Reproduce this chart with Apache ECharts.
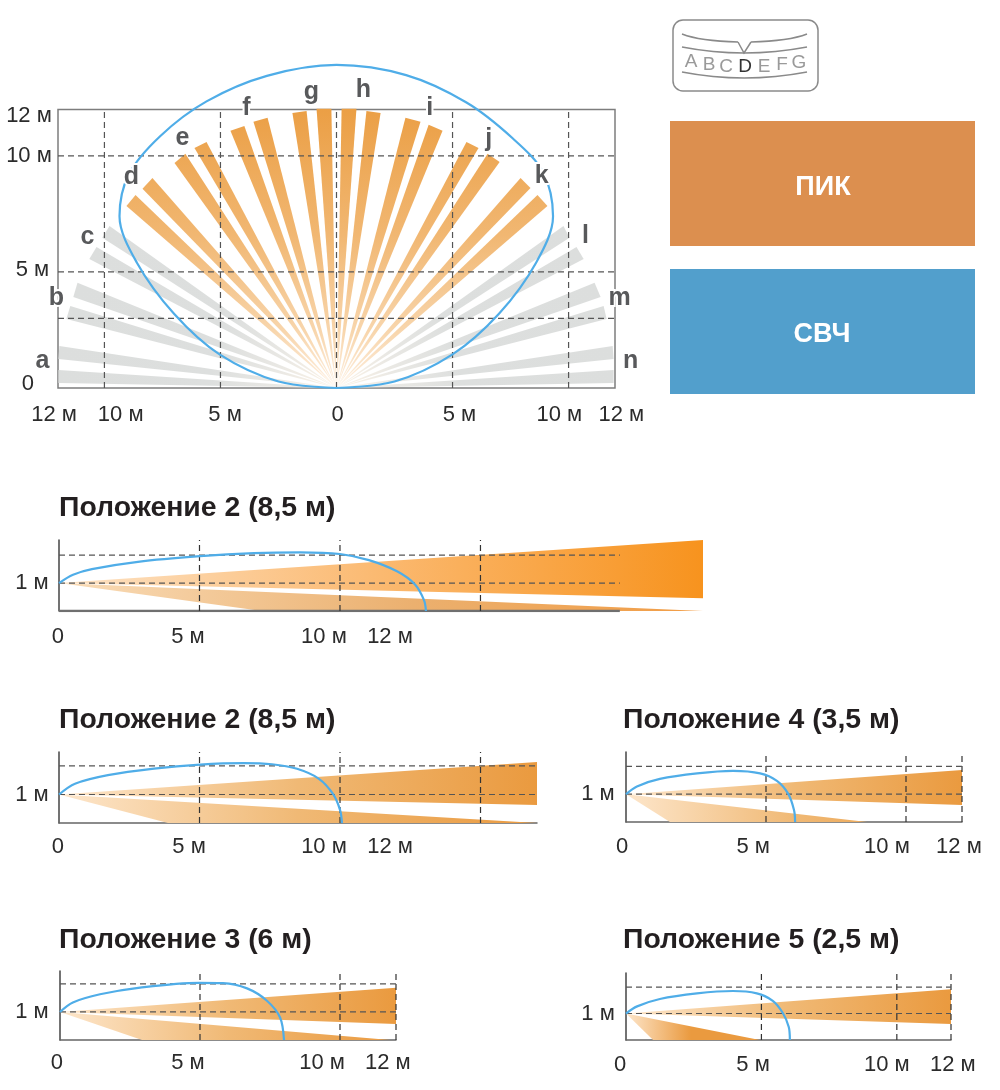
<!DOCTYPE html>
<html>
<head>
<meta charset="utf-8">
<title>Зоны обнаружения</title>
<script src="https://cdn.jsdelivr.net/npm/echarts@6/dist/echarts.min.js"></script>
<style>
    html, body { margin: 0; padding: 0; background: #fff; }
    #chart { width: 1000px; height: 1090px; }
</style>
</head>
<body>
<div id="chart"></div>
<script>
// top view, metres. each beam: tip corners x1, y1, x2, y2, the third corner is the origin
const greyBeams = [
    [-11.98, 0.78, -11.98, 0.22], [-11.94, 1.81, -11.98, 1.25],
    [-11.47, 3.53, -11.64, 2.97], [-11.16, 4.53, -11.34, 3.92],
    [-10.34, 6.08, -10.65, 5.56], [-9.78, 6.98, -10.09, 6.47],
    [9.78, 6.98, 10.04, 6.47], [10.34, 6.08, 10.65, 5.56],
    [11.12, 4.53, 11.38, 3.92], [11.51, 3.53, 11.64, 2.97],
    [11.9, 1.81, 11.94, 1.25], [11.94, 0.78, 11.94, 0.22]
];
const orangeBeams = [
    [-8.66, 8.32, -9.05, 7.84], [-7.93, 9.05, -8.36, 8.58],
    [-6.51, 10.09, -6.98, 9.7], [-5.6, 10.6, -6.12, 10.34],
    [-3.97, 11.29, -4.57, 11.08], [-2.97, 11.64, -3.58, 11.47],
    [-1.29, 11.94, -1.9, 11.85], [-0.22, 12.03, -0.86, 12.03],
    [0.22, 12.03, 0.86, 12.03], [1.29, 11.94, 1.9, 11.85],
    [2.97, 11.64, 3.62, 11.47], [3.97, 11.34, 4.57, 11.08],
    [5.6, 10.6, 6.12, 10.34], [6.51, 10.09, 7.03, 9.74],
    [7.93, 9.05, 8.36, 8.62], [8.66, 8.32, 9.09, 7.84]
];
const topCurve = [
    [0, 0], [-2.5, 0.28], [-5.04, 1.45], [-7, 3.2], [-8.6, 5.4], [-9.35, 7.4], [-8.95, 9.2],
    [-7.6, 10.85], [-5.6, 12.35], [-3, 13.45], [0, 13.92], [3, 13.48], [5.6, 12.3], [7.6, 10.75],
    [8.9, 9.3], [9.33, 7.4], [8.6, 5.4], [7, 3.2], [5, 1.45], [2.5, 0.28], [0, 0]
];
const topGridX = [-10, -5, 0, 5, 10];
const topGridY = [3, 5, 10];
const beamLetters = ['a', 'b', 'c', 'd', 'e', 'f', 'g', 'h', 'i', 'j', 'k', 'l', 'm', 'n'];
const letterX = [-12.67, -12.07, -10.73, -8.84, -6.64, -3.88, -1.08, 1.16, 4.02, 6.56, 8.84, 10.73, 12.2, 12.67];
const letterY = [1.16, 3.88, 6.5, 9.09, 10.78, 12.05, 12.76, 12.84, 12.05, 10.73, 9.14, 6.54, 3.88, 1.16];
const topTickText = ['12 м', '10 м', '5 м', '0', '5 м', '10 м', '12 м'];
const topTickX = [-12.17, -9.3, -4.8, 0.05, 5.30, 9.6, 12.27];
const topTickY = -1.15;
const topSideText = ['12 м', '10 м', '5 м', '0'];
const topSideX = [-13.25, -13.25, -13.1, -13.3];
const topSideY = [11.72, 10, 5.1, 0.17];

// side views, metres
const sideTitles = ['Положение 2 (8,5 м)', 'Положение 2 (8,5 м)', 'Положение 4 (3,5 м)', 'Положение 3 (6 м)', 'Положение 5 (2,5 м)'];
const upperBeamA = [[0, 1], [22.92, 2.54], [22.92, 0.46]];
const lowerBeamA = [[0, 1], [22.92, 0], [7.22, 0]];
const curveA = [[0, 1], [0.5, 1.3], [1.17, 1.5], [2.81, 1.76], [5.02, 1.96], [6.94, 2.07], [8.58, 2.1], [10, 2.04], [11.03, 1.82], [12.03, 1.42], [12.67, 0.95], [12.99, 0.39], [13.06, 0]];
const baselineA = [[0, 0], [19.96, 0]];
const tickXA = [-0.04, 4.59, 9.43, 11.78];
const upperBeamB = [[0, 1], [17.01, 2.14], [17.01, 0.63]];
const lowerBeamB = [[0, 1], [17.01, 0], [3.88, 0]];
const curveB = [[0, 1], [0.57, 1.38], [1.74, 1.68], [3.38, 1.91], [5.02, 2.05], [6.58, 2.1], [7.58, 2.06], [8.47, 1.9], [9.25, 1.55], [9.75, 1.02], [10, 0.46], [10.07, 0]];
const tickXB = [-0.04, 4.63, 9.43, 11.78];
const upperBeamC = [[0, 1], [12, 1.87], [12, 0.61]];
const lowerBeamC = [[0, 1], [8.61, 0], [1.57, 0]];
const curveC = [[0, 1], [0.39, 1.28], [1.21, 1.55], [2.54, 1.75], [3.82, 1.84], [4.79, 1.75], [5.39, 1.48], [5.79, 1.02], [6, 0.43], [6.04, 0]];
const tickXC = [-0.14, 4.54, 9.32, 11.89];
const upperBeamD = [[0, 1], [12, 1.86], [12, 0.57]];
const lowerBeamD = [[0, 1], [11.79, 0], [2.93, 0]];
const curveD = [[0, 1], [0.46, 1.34], [1.43, 1.63], [2.86, 1.87], [4.96, 2.04], [5.82, 2.03], [6.68, 1.84], [7.39, 1.4], [7.86, 0.8], [8, 0]];
const tickXD = [-0.11, 4.57, 9.36, 11.71];
const upperBeamE = [[0, 1], [12, 1.92], [12, 0.6]];
const lowerBeamE = [[0, 1], [4.94, 0], [1, 0]];
const curveE = [[0, 1], [0.41, 1.27], [1.25, 1.55], [2.62, 1.76], [3.95, 1.85], [4.83, 1.76], [5.42, 1.48], [5.79, 1.02], [6.01, 0.49], [6.05, 0]];
const tickXE = [-0.22, 4.69, 9.63, 12.07];
const sideTickText = ['0', '5 м', '10 м', '12 м'];
const sideGridY = [1, 2];

const textFont = '"Liberation Sans", Arial, sans-serif';
const labelColor = '#2b2b2b';
const dashColor = '#555555';
const curveColor = '#4fade8';

const chart = echarts.init(document.getElementById('chart'));
const grids = [], xAxes = [], yAxes = [], series = [], titles = [];

function addGrid(box, xMin, xMax, yMax, frame, hideBase) {
    const idx = grids.length;
    grids.push({ left: box.left, top: box.top, width: box.right - box.left, height: box.bottom - box.top,
        show: frame, borderColor: '#7d7d7d', borderWidth: 1.5, containLabel: false });
    xAxes.push({ gridIndex: idx, type: 'value', min: xMin, max: xMax, splitLine: { show: false },
        axisLabel: { show: false }, axisTick: { show: false },
        axisLine: { show: !frame && !hideBase, onZero: false, lineStyle: { color: '#666', width: 1.5 } } });
    yAxes.push({ gridIndex: idx, type: 'value', min: 0, max: yMax, splitLine: { show: false },
        axisLabel: { show: false }, axisTick: { show: false },
        axisLine: { show: !frame, onZero: false, lineStyle: { color: '#444', width: 1.5 } } });
    return idx;
}

function polygonSeries(idx, polygons, fillFn, z) {
    series.push({
        type: 'custom', xAxisIndex: idx, yAxisIndex: idx, z: z, silent: true,
        data: polygons.map((p) => p[0]),
        renderItem: (params, api) => ({
            type: 'polygon',
            shape: { points: polygons[params.dataIndex].map((p) => api.coord(p)) },
            style: { fill: fillFn(api), stroke: null }
        })
    });
}

function dashSeries(idx, segments, color, width) {
    series.push({
        type: 'custom', xAxisIndex: idx, yAxisIndex: idx, z: 5, silent: true,
        data: segments.map((s) => s[0]),
        renderItem: (params, api) => {
            const from = api.coord(segments[params.dataIndex][0]);
            const to = api.coord(segments[params.dataIndex][1]);
            return {
                type: 'line',
                shape: { x1: from[0], y1: from[1], x2: to[0], y2: to[1] },
                style: { stroke: segments[params.dataIndex][2] || color, lineWidth: width, lineDash: [6, 4] }
            };
        }
    });
}

function curveSeries(idx, points) {
    series.push({
        type: 'line', xAxisIndex: idx, yAxisIndex: idx, z: 6, silent: true, clip: false,
        data: points, smooth: 0.33, symbol: 'none',
        lineStyle: { color: curveColor, width: 2.2 }
    });
}

function textSeries(idx, texts, xs, ys, font, color, halo) {
    series.push({
        type: 'custom', xAxisIndex: idx, yAxisIndex: idx, z: 8, silent: true,
        data: xs.map((x, i) => [x, ys[i]]),
        renderItem: (params, api) => {
            const pos = api.coord([api.value(0), api.value(1)]);
            const style = { text: texts[params.dataIndex], x: pos[0], y: pos[1], fill: color, font: font, align: 'center', verticalAlign: 'middle' };
            if (halo) {
                style.stroke = '#fff';
                style.lineWidth = 4;
            }
            return { type: 'text', style: style };
        }
    });
}

// top view
const topIdx = addGrid({ left: 58, right: 615, top: 109.5, bottom: 388 }, -12, 12, 12, true);
const toTriangle = (b) => [[0, 0], [b[0], b[1]], [b[2], b[3]]];
polygonSeries(topIdx, greyBeams.map(toTriangle), (api) => {
    const o = api.coord([0, 0]);
    return new echarts.graphic.RadialGradient(o[0], o[1], 280, [
        { offset: 0, color: '#fdf3e6' }, { offset: 0.22, color: '#e9e8e4' }, { offset: 0.45, color: '#dddfde' }, { offset: 1, color: '#dcdedd' }
    ], true);
}, 2);
polygonSeries(topIdx, orangeBeams.map(toTriangle), (api) => {
    const y0 = api.coord([0, 0])[1];
    const y1 = api.coord([0, 12])[1];
    return new echarts.graphic.LinearGradient(0, y1, 0, y0, [
        { offset: 0, color: '#eb9f45' }, { offset: 0.45, color: '#f1b772' }, { offset: 0.8, color: '#f8d6ad' }, { offset: 1, color: '#fef1e3' }
    ], true);
}, 3);
dashSeries(topIdx, topGridX.map((x) => [[x, 0], [x, 12]]).concat(topGridY.map((y) => [[-12, y], [12, y]])), dashColor, 1.2);
curveSeries(topIdx, topCurve);
textSeries(topIdx, beamLetters, letterX, letterY, 'bold 25px ' + textFont, '#58595b', true);
textSeries(topIdx, topTickText, topTickX, topTickX.map(() => topTickY), '22px ' + textFont, labelColor, false);
textSeries(topIdx, topSideText, topSideX, topSideY, '22px ' + textFont, labelColor, false);

// side views
function addSide(cfg) {
    const idx = addGrid(cfg.box, 0, cfg.xMax, cfg.yMax, false, !!cfg.baseline);
    titles.push({ text: cfg.title, left: cfg.titleLeft, top: cfg.titleTop, padding: 0,
        textStyle: { fontFamily: textFont, fontSize: 28.4, fontWeight: 'bold', color: '#231f20' } });
    const end = cfg.dashEnd || cfg.xMax;
    const edge = (api, stops) => {
        const x0 = api.coord([0, 0])[0];
        const x1 = api.coord([cfg.xMax, 0])[0];
        return new echarts.graphic.LinearGradient(x0, 0, x1, 0, stops, true);
    };
    polygonSeries(idx, [cfg.upper], (api) => edge(api, cfg.upperStops), 2);
    polygonSeries(idx, [cfg.lower], (api) => edge(api, cfg.lowerStops), 2);
    dashSeries(idx, cfg.gridX.map((x) => [[x, 0], [x, cfg.yMax], '#333'])
        .concat(sideGridY.map((y) => [[0, y], [end, y]])), dashColor, 1.2);
    if (cfg.baseline) {
        series.push({ type: 'line', xAxisIndex: idx, yAxisIndex: idx, z: 4, silent: true, data: cfg.baseline,
            symbol: 'none', lineStyle: { color: '#6f6f6f', width: 2.4 } });
    }
    curveSeries(idx, cfg.curve);
    const belowAxis = -(cfg.tickDrop / cfg.pxY);
    textSeries(idx, sideTickText, cfg.tickX, cfg.tickX.map(() => belowAxis), '22px ' + textFont, labelColor, false);
    textSeries(idx, ['1 м'], [-(cfg.box.left - cfg.oneAt) / cfg.pxX], [1], '22px ' + textFont, labelColor, false);
}

const softStops = [{ offset: 0, color: '#fde6cb' }, { offset: 0.5, color: '#f0b975' }, { offset: 1, color: '#ea9a3f' }];
addSide({ title: sideTitles[0], titleLeft: 59, titleTop: 494, box: { left: 59, right: 703, top: 540, bottom: 611 }, xMax: 22.92, yMax: 2.54, pxX: 28.1, pxY: 28,
    dashEnd: 19.96, baseline: baselineA, gridX: [5, 10, 15], upper: upperBeamA, lower: lowerBeamA, curve: curveA, tickX: tickXA, tickDrop: 26, oneAt: 32,
    upperStops: [{ offset: 0, color: '#fde3c6' }, { offset: 0.5, color: '#fbb970' }, { offset: 1, color: '#f7931e' }],
    lowerStops: [{ offset: 0, color: '#f9dcb8' }, { offset: 0.55, color: '#ebb06f' }, { offset: 1, color: '#f29d45' }] });
addSide({ title: sideTitles[1], titleLeft: 59, titleTop: 706, box: { left: 59, right: 537, top: 752, bottom: 823 }, xMax: 17.01, yMax: 2.49, pxX: 28.1, pxY: 28.5,
    gridX: [5, 10, 15], upper: upperBeamB, lower: lowerBeamB, curve: curveB, tickX: tickXB, tickDrop: 24, oneAt: 32,
    upperStops: softStops, lowerStops: softStops });
addSide({ title: sideTitles[2], titleLeft: 623, titleTop: 706, box: { left: 626, right: 962, top: 752, bottom: 822 }, xMax: 12, yMax: 2.52, pxX: 28, pxY: 27.75,
    gridX: [5, 10, 12], upper: upperBeamC, lower: lowerBeamC, curve: curveC, tickX: tickXC, tickDrop: 25, oneAt: 598,
    upperStops: softStops, lowerStops: softStops });
addSide({ title: sideTitles[3], titleLeft: 59, titleTop: 926, box: { left: 60, right: 396, top: 971, bottom: 1040 }, xMax: 12, yMax: 2.46, pxX: 28, pxY: 28,
    gridX: [5, 10, 12], upper: upperBeamD, lower: lowerBeamD, curve: curveD, tickX: tickXD, tickDrop: 23, oneAt: 32,
    upperStops: softStops, lowerStops: softStops });
addSide({ title: sideTitles[4], titleLeft: 623, titleTop: 926, box: { left: 626, right: 951, top: 973, bottom: 1040 }, xMax: 12, yMax: 2.53, pxX: 27.1, pxY: 26.5,
    gridX: [5, 10, 12], upper: upperBeamE, lower: lowerBeamE, curve: curveE, tickX: tickXE, tickDrop: 25, oneAt: 598,
    upperStops: softStops, lowerStops: [{ offset: 0, color: '#fde6cb' }, { offset: 0.2, color: '#ea9a3f' }, { offset: 1, color: '#ea9a3f' }] });

// selector icon and the two legend boxes
const iconStroke = { stroke: '#8a8a8a', lineWidth: 1.5, fill: null };
const iconLetters = [['A', 691, 62], ['B', 709, 65], ['C', 726, 67], ['D', 745, 67], ['E', 764, 67], ['F', 782, 65], ['G', 799, 63]];
const graphics = [
    { type: 'rect', shape: { x: 673, y: 20, width: 145, height: 71, r: 10 }, style: iconStroke },
    { type: 'bezierCurve', shape: { x1: 682, y1: 34, x2: 738, y2: 42, cpx1: 700, cpy1: 41 }, style: iconStroke },
    { type: 'bezierCurve', shape: { x1: 751, y1: 42, x2: 807, y2: 34, cpx1: 789, cpy1: 41 }, style: iconStroke },
    { type: 'polyline', shape: { points: [[738, 42], [744, 53], [751, 42]] }, style: iconStroke },
    { type: 'bezierCurve', shape: { x1: 682, y1: 47, x2: 807, y2: 47, cpx1: 744, cpy1: 59 }, style: iconStroke },
    { type: 'bezierCurve', shape: { x1: 682, y1: 72, x2: 807, y2: 72, cpx1: 744, cpy1: 84 }, style: iconStroke },
    { type: 'rect', shape: { x: 670, y: 121, width: 305, height: 125 }, style: { fill: '#dc8f4f' } },
    { type: 'rect', shape: { x: 670, y: 269, width: 305, height: 125 }, style: { fill: '#529fcc' } },
    { type: 'text', style: { text: 'ПИК', x: 823, y: 188, fill: '#fff', font: 'bold 27px ' + textFont, align: 'center', verticalAlign: 'middle' } },
    { type: 'text', style: { text: 'СВЧ', x: 822, y: 335, fill: '#fff', font: 'bold 27px ' + textFont, align: 'center', verticalAlign: 'middle' } }
];
iconLetters.forEach((l) => {
    graphics.push({ type: 'text', style: { text: l[0], x: l[1], y: l[2], fill: l[0] === 'D' ? '#333' : '#9a9a9a', font: '19px ' + textFont, align: 'center', verticalAlign: 'middle' } });
});

chart.setOption({
    animation: false,
    backgroundColor: '#fff',
    title: titles,
    grid: grids,
    xAxis: xAxes,
    yAxis: yAxes,
    series: series,
    graphic: graphics
});
</script>
</body>
</html>
